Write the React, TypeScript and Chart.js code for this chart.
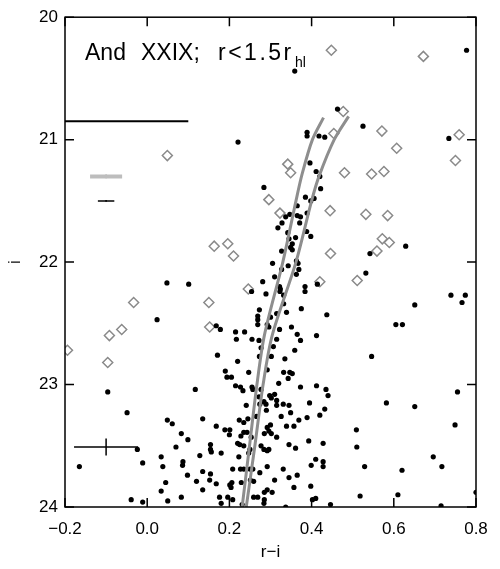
import React, { useEffect, useRef } from "react";
import { Chart, registerables } from "chart.js";

Chart.register(...registerables);

// ---- data ----
const xTicks = [-0.2, 0.0, 0.2, 0.4, 0.6, 0.8];
const yTicks = [20, 21, 22, 23, 24];

// black points: [r-i, i]
const dotPoints: [number, number][] = [
  [0.359, 20.44], [0.221, 21.02], [0.463, 20.75], [0.389, 20.94], [0.389, 20.97], [0.418, 20.97], [0.432, 20.98],
  [0.396, 21.19], [0.411, 21.26], [0.42, 21.3],
  [0.777, 20.27], [0.525, 20.89], [0.734, 20.99],
  [0.048, 22.17], [0.101, 22.18], [0.024, 22.47],
  [0.284, 21.39], [0.422, 21.4], [0.385, 21.47], [0.398, 21.5], [0.406, 21.48], [0.365, 21.54], [0.389, 21.6],
  [0.365, 21.62], [0.373, 21.63], [0.347, 21.61], [0.337, 21.63], [0.328, 21.68], [0.371, 21.68], [0.318, 21.72],
  [0.342, 21.76], [0.388, 21.75], [0.398, 21.79], [0.361, 21.8], [0.345, 21.81], [0.353, 21.85], [0.349, 21.88],
  [0.353, 21.9], [0.327, 21.91], [0.363, 21.99], [0.367, 22.01], [0.343, 22.03], [0.305, 22.01], [0.327, 22.06],
  [0.369, 22.06], [0.363, 22.1], [0.31, 22.12], [0.281, 22.16], [0.414, 22.18], [0.322, 22.2], [0.324, 22.22],
  [0.323, 22.24], [0.332, 22.27], [0.384, 22.2], [0.384, 22.24], [0.289, 22.26], [0.254, 22.24], [0.332, 22.34],
  [0.339, 22.41], [0.375, 22.38], [0.437, 22.43], [0.273, 22.39], [0.315, 22.42], [0.269, 22.44], [0.269, 22.47],
  [0.269, 22.51], [0.3, 22.45], [0.292, 22.51], [0.296, 22.53], [0.322, 22.55], [0.351, 22.53], [0.365, 22.59],
  [0.412, 22.6], [0.168, 22.52], [0.178, 22.55], [0.215, 22.57], [0.237, 22.57], [0.217, 22.63], [0.255, 22.63],
  [0.272, 22.64], [0.315, 22.63], [0.373, 22.64],
  [0.629, 21.87], [0.542, 21.93], [0.532, 22.09], [0.739, 22.27], [0.774, 22.27], [0.766, 22.33], [0.651, 22.35],
  [0.605, 22.51], [0.621, 22.51],
  [-0.096, 23.06], [-0.049, 23.23], [0.117, 23.04], [0.135, 23.28], [0.049, 23.29], [0.061, 23.32], [0.083, 23.4],
  [0.099, 23.45], [0.07, 23.51], [-0.024, 23.53], [0.128, 23.58], [0.034, 23.59], [-0.011, 23.64], [0.087, 23.63],
  [0.086, 23.66], [0.038, 23.67], [0.135, 23.71], [0.098, 23.74], [0.045, 23.8], [0.12, 23.79], [0.135, 23.86],
  [0.034, 23.87], [-0.165, 23.67], [-0.039, 23.94], [-0.011, 23.96], [0.05, 23.95], [0.083, 23.92],
  [0.277, 22.7], [0.307, 22.69], [0.273, 22.77], [0.302, 22.77], [0.359, 22.72], [0.171, 22.76], [0.335, 22.79],
  [0.22, 22.81], [0.19, 22.89], [0.194, 22.94], [0.205, 22.94], [0.247, 22.9], [0.292, 22.88], [0.332, 22.9],
  [0.347, 22.9], [0.353, 22.91], [0.343, 22.95], [0.32, 22.99], [0.215, 23.01], [0.227, 23.02], [0.233, 23.05],
  [0.255, 23.02], [0.257, 23.04], [0.277, 23.04], [0.373, 23.02], [0.412, 23.01], [0.435, 23.04], [0.44, 23.09],
  [0.31, 23.08], [0.298, 23.09], [0.302, 23.11], [0.272, 23.1], [0.315, 23.13], [0.284, 23.14], [0.289, 23.16],
  [0.331, 23.16], [0.345, 23.17], [0.241, 23.17], [0.274, 23.16], [0.315, 23.17], [0.395, 23.15], [0.29, 23.21],
  [0.349, 23.23], [0.326, 23.26], [0.432, 23.2], [0.42, 23.25], [0.389, 23.27], [0.369, 23.29], [0.245, 23.28],
  [0.266, 23.26], [0.224, 23.29], [0.235, 23.31], [0.3, 23.33], [0.292, 23.35], [0.339, 23.34], [0.357, 23.34],
  [0.168, 23.34], [0.189, 23.37], [0.201, 23.37], [0.2, 23.41], [0.235, 23.39], [0.243, 23.39], [0.296, 23.38],
  [0.302, 23.4], [0.285, 23.4], [0.315, 23.43], [0.228, 23.42], [0.253, 23.43], [0.22, 23.48], [0.225, 23.49],
  [0.235, 23.5], [0.277, 23.5], [0.284, 23.53], [0.292, 23.54], [0.296, 23.53], [0.25, 23.53], [0.247, 23.56],
  [0.154, 23.49], [0.154, 23.53], [0.156, 23.55], [0.18, 23.56], [0.345, 23.49], [0.361, 23.52], [0.393, 23.46],
  [0.428, 23.48], [0.223, 23.59], [0.41, 23.61], [0.399, 23.66], [0.428, 23.63], [0.428, 23.67], [0.208, 23.69],
  [0.227, 23.69], [0.235, 23.69], [0.25, 23.69], [0.257, 23.69], [0.274, 23.72], [0.292, 23.67], [0.331, 23.69],
  [0.365, 23.74], [0.345, 23.76], [0.154, 23.73], [0.152, 23.78], [0.168, 23.81], [0.206, 23.8], [0.201, 23.82],
  [0.204, 23.84], [0.229, 23.8], [0.251, 23.78], [0.259, 23.79], [0.31, 23.78], [0.285, 23.88], [0.292, 23.86],
  [0.304, 23.88], [0.357, 23.84], [0.398, 23.83], [0.176, 23.92], [0.196, 23.92], [0.208, 23.94], [0.259, 23.92],
  [0.269, 23.92], [0.285, 23.94], [0.402, 23.94], [0.41, 23.93], [0.18, 23.97], [0.231, 23.98], [0.284, 23.97],
  [0.446, 23.98], [0.337, 24.0],
  [0.546, 22.77], [0.755, 23.06], [0.582, 23.15], [0.651, 23.18], [0.749, 23.33], [0.509, 23.37], [0.51, 23.51],
  [0.696, 23.59], [0.717, 23.67], [0.529, 23.67], [0.62, 23.7], [0.518, 23.91], [0.61, 23.9], [0.715, 23.99],
  [0.8, 23.88],
];

// open diamonds: [r-i, i]
const diamondPoints: [number, number][] = [
  [0.049, 21.13], [0.448, 20.27], [0.477, 20.77], [0.454, 20.95], [0.342, 21.2], [0.349, 21.27], [0.48, 21.27],
  [0.672, 20.32], [0.571, 20.93], [0.607, 21.07], [0.759, 20.96], [0.75, 21.17], [0.546, 21.28], [0.576, 21.26],
  [-0.033, 22.33], [-0.092, 22.6], [-0.062, 22.55], [0.15, 22.33], [0.296, 21.49], [0.323, 21.6], [0.445, 21.58],
  [0.163, 21.87], [0.196, 21.85], [0.21, 21.95], [0.446, 21.93], [0.42, 22.16], [0.246, 22.22], [0.152, 22.53],
  [0.532, 21.61], [0.585, 21.62], [0.572, 21.81], [0.589, 21.84], [0.559, 21.91], [0.511, 22.15], [-0.194, 22.72],
  [-0.096, 22.82],
];

// isochrones
const isoLeftI = [24, 23.5, 23, 22.6, 22, 21.5, 21.28, 21, 20.82];
const isoLeftRI = [0.231, 0.249, 0.267, 0.285, 0.33, 0.362, 0.377, 0.402, 0.429];
const isoRightI = [24, 23.5, 23, 22.6, 22, 21.5, 21.3, 21, 20.81];
const isoRightRI = [0.241, 0.262, 0.282, 0.304, 0.362, 0.4, 0.418, 0.455, 0.49];

// horizontal limit line
const limitRI = [-0.2, 0.1];
const limitI = 20.85;

// error bars (centre, half widths)
const errRI = [-0.1, -0.1, -0.1];
const errI = [21.3, 21.5, 23.51];
const errHalfRI = [0.039, 0.02, 0.078];
const errHalfI = [0.015, 0.008, 0.07];
const errColor = ["#bdbdbd", "#000000", "#000000"];
const errWidth = [4, 1.5, 1.5];

const FONT = "'Liberation Sans', Arial, Helvetica, sans-serif";

const framePlugin = {
  id: "frame",
  afterDraw(chart: any) {
    const { ctx, chartArea, scales } = chart;
    const { left, right, top, bottom } = chartArea;
    const x = scales.x;
    const y = scales.y;
    ctx.save();
    ctx.strokeStyle = "#000";
    ctx.lineWidth = 1.5;
    ctx.strokeRect(left, top, right - left, bottom - top);
    const tl = 9;
    ctx.beginPath();
    xTicks.forEach((v) => {
      const px = x.getPixelForValue(v);
      ctx.moveTo(px, bottom);
      ctx.lineTo(px, bottom - tl);
      ctx.moveTo(px, top);
      ctx.lineTo(px, top + tl);
    });
    yTicks.forEach((v) => {
      const py = y.getPixelForValue(v);
      ctx.moveTo(left, py);
      ctx.lineTo(left + tl, py);
      ctx.moveTo(right, py);
      ctx.lineTo(right - tl, py);
    });
    ctx.stroke();

    // annotation text
    ctx.fillStyle = "#000";
    ctx.textBaseline = "alphabetic";
    ctx.textAlign = "left";
    ctx.font = `23px ${FONT}`;
    ctx.fillText("And", 85, 60);
    ctx.fillText("XXIX;", 141, 60);
    try {
      (ctx as any).letterSpacing = "2.5px";
    } catch (e) {}
    ctx.fillText("r<1.5r", 218, 60);
    try {
      (ctx as any).letterSpacing = "0px";
    } catch (e) {}
    ctx.font = `14px ${FONT}`;
    ctx.fillText("hl", 295, 67);

    // axis titles
    ctx.font = `17px ${FONT}`;
    ctx.textAlign = "center";
    ctx.fillText("r\u2212i", (left + right) / 2, 557);
    ctx.save();
    ctx.translate(20, (top + bottom) / 2);
    ctx.rotate(-Math.PI / 2);
    ctx.fillText("i", 0, 0);
    ctx.restore();
    ctx.restore();
  },
};

export default function App() {
  const ref = useRef<HTMLCanvasElement | null>(null);
  useEffect(() => {
    if (!ref.current) return;
    const datasets: any[] = [];
    datasets.push({
      type: "scatter",
      data: dotPoints.map(([a, b]) => ({ x: a, y: b })),
      pointStyle: "circle",
      pointRadius: 2.6,
      pointBackgroundColor: "#000",
      pointBorderWidth: 0,
      order: 2,
    });
    datasets.push({
      type: "scatter",
      data: diamondPoints.map(([a, b]) => ({ x: a, y: b })),
      pointStyle: "rectRot",
      pointRadius: 5,
      pointBackgroundColor: "rgba(255,255,255,0)",
      pointBorderColor: "#8a8a8a",
      pointBorderWidth: 1.5,
      order: 2,
    });
    [
      [isoLeftRI, isoLeftI],
      [isoRightRI, isoRightI],
    ].forEach(([rx, ry]) => {
      datasets.push({
        type: "line",
        data: rx.map((v, k) => ({ x: v, y: ry[k] })),
        borderColor: "#8e8e8e",
        borderWidth: 3,
        pointRadius: 0,
        tension: 0.3,
        fill: false,
        order: 1,
      });
    });
    datasets.push({
      type: "line",
      data: limitRI.map((v) => ({ x: v, y: limitI })),
      borderColor: "#000",
      borderWidth: 2,
      pointRadius: 0,
      fill: false,
      order: 1,
    });
    errRI.forEach((c, k) => {
      datasets.push({
        type: "line",
        data: [
          { x: c - errHalfRI[k], y: errI[k] },
          { x: c + errHalfRI[k], y: errI[k] },
        ],
        borderColor: errColor[k],
        borderWidth: errWidth[k],
        pointRadius: 0,
        fill: false,
        order: 1,
      });
      datasets.push({
        type: "line",
        data: [
          { x: c, y: errI[k] - errHalfI[k] },
          { x: c, y: errI[k] + errHalfI[k] },
        ],
        borderColor: k === 0 ? "#999999" : errColor[k],
        borderWidth: 1.5,
        pointRadius: 0,
        fill: false,
        order: 1,
      });
    });

    const chart = new Chart(ref.current, {
      type: "scatter",
      data: { datasets },
      options: {
        responsive: false,
        animation: false,
        events: [],
        layout: { padding: { top: 11, right: 24, left: 0, bottom: 0 } },
        plugins: { legend: { display: false }, tooltip: { enabled: false } },
        scales: {
          x: {
            type: "linear",
            min: -0.2,
            max: 0.8,
            afterFit: (s: any) => {
              s.height = 62;
            },
            afterBuildTicks: (s: any) => {
              s.ticks = xTicks.map((v) => ({ value: v }));
            },
            ticks: {
              color: "#000",
              font: { family: FONT, size: 17 },
              padding: 12,
              maxRotation: 0,
              callback: (v: any) => Number(v).toFixed(1).replace("-", "\u2212"),
            },
            grid: { display: false, drawTicks: false },
            border: { display: false },
          },
          y: {
            type: "linear",
            min: 20,
            max: 24,
            reverse: true,
            afterFit: (s: any) => {
              s.width = 65;
            },
            afterBuildTicks: (s: any) => {
              s.ticks = yTicks.map((v) => ({ value: v }));
            },
            ticks: {
              color: "#000",
              font: { family: FONT, size: 17 },
              padding: 7,
              callback: (v: any) => String(v),
            },
            grid: { display: false, drawTicks: false },
            border: { display: false },
          },
        },
      },
      plugins: [framePlugin],
    });
    return () => chart.destroy();
  }, []);
  return (
    <div style={{ position: "absolute", left: 0, top: 0, width: 500, height: 569, background: "#fff" }}>
      <canvas ref={ref} width={500} height={569} style={{ display: "block", width: 500, height: 569 }} />
    </div>
  );
}
